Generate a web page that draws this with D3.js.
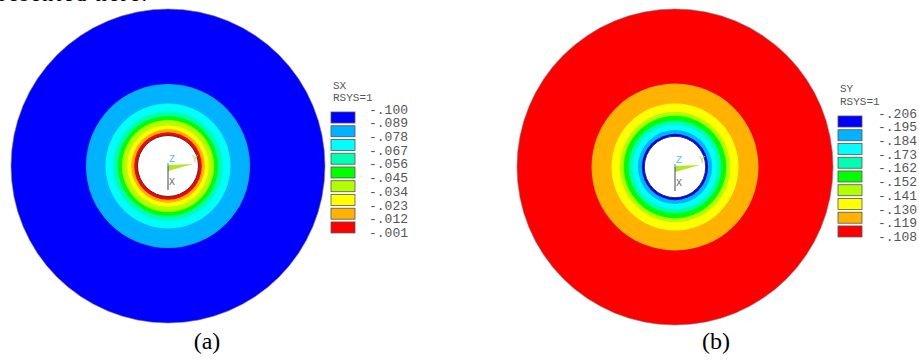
<!DOCTYPE html>
<html>
<head>
<meta charset="utf-8">
<script src="https://cdn.jsdelivr.net/npm/d3@7"></script>
<style>
body { margin: 0; background: #fff; }
svg { display: block; }
</style>
</head>
<body>
<svg width="919" height="362"></svg>
<script>
// contour band colours (ANSYS 9-band palette), lowest band first
const bandColors = ["#0000ff", "#00b2ff", "#00ffff", "#00ffb2", "#00ff00", "#b2ff00", "#ffff00", "#ffb200", "#ff0000"];

const sxLevels = ["-.100", "-.089", "-.078", "-.067", "-.056", "-.045", "-.034", "-.023", "-.012", "-.001"];
const syLevels = ["-.206", "-.195", "-.184", "-.173", "-.162", "-.152", "-.141", "-.130", "-.119", "-.108"];

// outer radius of each contour ring (hole radius = 1) and its band index
const holeR = 1;
const sxRingR = [5.15, 2.69, 2.05, 1.80, 1.64, 1.51, 1.34, 1.21, 1.11];
const sxRingBand = [0, 1, 2, 3, 4, 5, 6, 7, 8];
const syRingR = [5.15, 2.72, 2.07, 1.80, 1.67, 1.51, 1.38, 1.21, 1.08];
const syRingBand = [8, 7, 6, 5, 4, 3, 2, 1, 0];

const captions = ["(a)", "(b)"];

const svg = d3.select("svg");

// clipped line of the paragraph above (only its lower edge shows)
svg.append("text")
    .attr("x", -1)
    .attr("y", 1)
    .attr("textLength", 148)
    .style("font-family", "'Liberation Serif', serif")
    .style("font-size", "22px")
    .text("resented here.");

const panels = [
    {title: "SX", levels: sxLevels, ringR: sxRingR, ringBand: sxRingBand, cx: 168, cy: 166, R: 157,
     legX: 331, titleY: 89, rsysY: 101, labY0: 109, labY1: 232.7, labX: 369, caption: captions[0], capX: 207},
    {title: "SY", levels: syLevels, ringR: syRingR, ringBand: syRingBand, cx: 675, cy: 167, R: 158,
     legX: 838, titleY: 92, rsysY: 105, labY0: 113, labY1: 236.7, labX: 878, caption: captions[1], capX: 716}
];

panels.forEach(p => drawPanel(p));

function drawPanel(p) {
    const scR = d3.scaleLinear().domain([0, p.ringR[0]]).range([0, p.R]);
    const color = d3.scaleOrdinal().domain(d3.range(9)).range(bandColors);

    const g = svg.append("g").attr("transform", `translate(${p.cx}, ${p.cy})`);

    const rings = p.ringR.map((r, i) => ({r: r, band: p.ringBand[i]}));
    g.selectAll(".ring")
        .data(rings)
        .enter()
        .append("circle")
        .attr("class", "ring")
        .attr("r", d => scR(d.r))
        .attr("fill", d => color(d.band))
        .attr("stroke", (d, i) => i === 0 ? "#777" : "none")
        .attr("stroke-width", 0.6);

    g.append("circle")
        .attr("r", scR(holeR))
        .attr("fill", "#fff")
        .attr("stroke", "#333")
        .attr("stroke-width", 1);

    // coordinate triad
    g.append("path")
        .attr("d", "M0,-1 L25,-2 L0,5 Z")
        .attr("fill", "#b4e628");
    g.append("line")
        .attr("x1", 0).attr("y1", 0).attr("x2", 0).attr("y2", 24)
        .attr("stroke", "#444").attr("stroke-width", 1);
    g.append("line")
        .attr("x1", 0).attr("y1", -3).attr("x2", 0).attr("y2", 0)
        .attr("stroke", "#3aa0ff").attr("stroke-width", 1.2);
    const triad = [
        {t: "Z", x: 1, y: -4, c: "#5ab4ff"},
        {t: "Y", x: 24, y: -4, c: "#b8d850"},
        {t: "X", x: 1, y: 19, c: "#666"}
    ];
    g.selectAll(".triad")
        .data(triad)
        .enter()
        .append("text")
        .attr("x", d => d.x)
        .attr("y", d => d.y)
        .attr("fill", d => d.c)
        .style("font-family", "'Liberation Mono', monospace")
        .style("font-size", "10px")
        .text(d => d.t);

    // legend
    const mono = "'Liberation Mono', 'DejaVu Sans Mono', monospace";
    svg.append("text")
        .attr("x", p.legX + 2).attr("y", p.titleY)
        .attr("fill", "#555")
        .style("font-family", mono).style("font-size", "11px")
        .text(p.title);
    svg.append("text")
        .attr("x", p.legX + 2).attr("y", p.rsysY)
        .attr("fill", "#555")
        .style("font-family", mono).style("font-size", "11px")
        .text("RSYS=1");

    const scL = d3.scaleLinear().domain([0, p.levels.length - 1]).range([p.labY0, p.labY1]);
    svg.selectAll(null)
        .data(d3.range(9))
        .enter()
        .append("rect")
        .attr("x", p.legX)
        .attr("y", i => scL(i) + 3)
        .attr("width", 24)
        .attr("height", 11)
        .attr("fill", i => color(i))
        .attr("stroke", "#555")
        .attr("stroke-width", 0.8);

    svg.selectAll(null)
        .data(p.levels)
        .enter()
        .append("text")
        .attr("x", p.labX)
        .attr("y", (d, i) => scL(i) + 4.5)
        .attr("fill", "#555")
        .style("font-family", mono)
        .style("font-size", "13px")
        .text(d => d);

    svg.append("text")
        .attr("x", p.capX)
        .attr("y", 349)
        .attr("text-anchor", "middle")
        .style("font-family", "'Liberation Serif', serif")
        .style("font-size", "24px")
        .text(p.caption);
}
</script>
</body>
</html>
